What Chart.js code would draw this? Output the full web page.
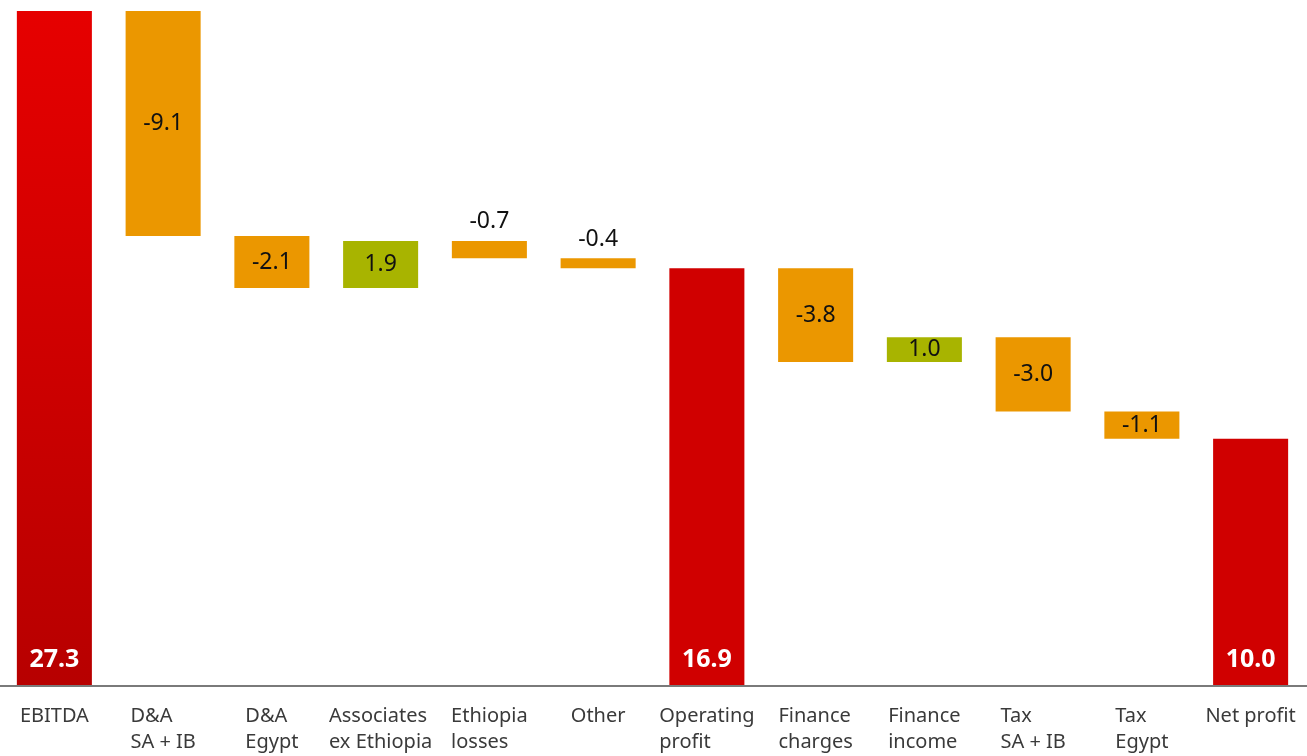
<!DOCTYPE html>
<html lang="en">
<head>
    <meta charset="UTF-8">
    <title>Waterfall: EBITDA to Net profit</title>
    <style>
        html, body { margin: 0; padding: 0; background: #fff; }
        #wrap { width: 1307px; height: 756px; position: relative; }
    </style>
</head>
<body>
    <div id="wrap"><canvas id="wf"></canvas></div>
    <script src="https://cdn.jsdelivr.net/npm/chart.js"></script>
    <script>
        // categories (multi-line labels) and values
        const categories = [
            ['EBITDA'], ['D&A', 'SA + IB'], ['D&A', 'Egypt'], ['Associates', 'ex Ethiopia'],
            ['Ethiopia', 'losses'], ['Other'], ['Operating', 'profit'], ['Finance', 'charges'],
            ['Finance', 'income'], ['Tax', 'SA + IB'], ['Tax', 'Egypt'], ['Net profit']
        ];
        const values = [27.3, -9.1, -2.1, 1.9, -0.7, -0.4, 16.9, -3.8, 1.0, -3.0, -1.1, 10.0];
        const isTotal = [true, false, false, false, false, false, true, false, false, false, false, true];

        // build floating ranges from the running total
        let running = 0;
        const ranges = values.map((v, i) => {
            if (isTotal[i]) { running = v; return [0, v]; }
            const start = running;
            running = +(running + v).toFixed(1);
            return [Math.min(start, running), Math.max(start, running)];
        });

        const ctx = document.getElementById('wf').getContext('2d');

        function barColor(c) {
            const i = c.dataIndex;
            if (i === 0) {
                const area = c.chart.chartArea;
                if (!area) return '#d40000';
                const g = c.chart.ctx.createLinearGradient(0, area.top, 0, area.bottom);
                g.addColorStop(0, '#e60000');
                g.addColorStop(1, '#b70000');
                return g;
            }
            if (isTotal[i]) return '#d00000';
            return values[i] < 0 ? '#eb9700' : '#a8b400';
        }

        const labelPlugin = {
            id: 'wfLabels',
            afterDatasetsDraw(chart) {
                const c = chart.ctx;
                const meta = chart.getDatasetMeta(0);
                c.save();
                c.textAlign = 'center';
                c.textBaseline = 'middle';
                meta.data.forEach((bar, i) => {
                    const top = Math.min(bar.y, bar.base);
                    const bottom = Math.max(bar.y, bar.base);
                    const txt = values[i].toFixed(1);
                    if (isTotal[i]) {
                        c.font = 'bold 25px "Noto Sans"';
                        c.fillStyle = '#ffffff';
                        c.fillText(txt, bar.x, bottom - 26);
                    } else {
                        c.font = '23px "Noto Sans"';
                        c.fillStyle = '#111111';
                        if (bottom - top > 22) c.fillText(txt, bar.x, (top + bottom) / 2);
                        else c.fillText(txt, bar.x, top - 19);
                    }
                });
                c.restore();
            },
            afterDraw(chart) {
                const c = chart.ctx;
                const area = chart.chartArea;
                const xs = chart.scales.x;
                c.save();
                // axis line
                c.strokeStyle = '#7a7a7a';
                c.lineWidth = 2;
                c.beginPath();
                c.moveTo(0, area.bottom);
                c.lineTo(chart.width, area.bottom);
                c.stroke();
                // category labels: block centred, lines left-aligned
                c.font = '20px "Noto Sans"';
                c.fillStyle = '#3a3a3a';
                c.textAlign = 'left';
                c.textBaseline = 'middle';
                categories.forEach((lines, i) => {
                    const cx = xs.getPixelForValue(i);
                    const w = Math.max(...lines.map(l => c.measureText(l).width));
                    lines.forEach((l, k) => c.fillText(l, cx - w / 2, area.bottom + 30 + k * 26));
                });
                c.restore();
            }
        };

        new Chart(ctx, {
            type: 'bar',
            data: {
                labels: categories.map(l => l.join(' ')),
                datasets: [{
                    data: ranges,
                    backgroundColor: barColor,
                    borderWidth: 0,
                    barPercentage: 0.69,
                    categoryPercentage: 1.0
                }]
            },
            plugins: [labelPlugin],
            options: {
                responsive: true,
                maintainAspectRatio: false,
                animation: false,
                layout: { padding: { top: 11, bottom: 70, left: 0, right: 2 } },
                plugins: { legend: { display: false }, tooltip: { enabled: false } },
                scales: {
                    x: { display: false },
                    y: { display: false, min: 0, max: 27.3 }
                }
            }
        });
    </script>
</body>
</html>
